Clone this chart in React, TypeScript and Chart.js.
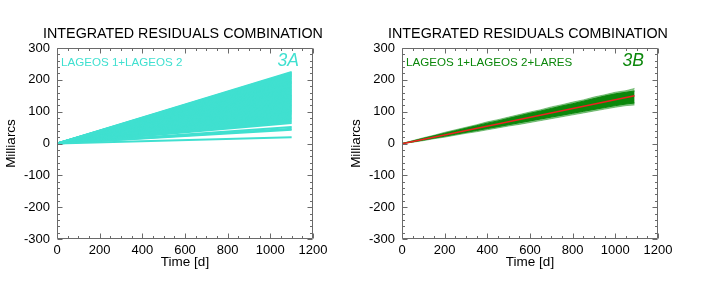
import React, { useEffect, useRef } from "react";
import { Chart, registerables } from "chart.js";

Chart.register(...registerables);

// ---------- data ----------
const TITLE = "INTEGRATED RESIDUALS COMBINATION";
const X_TITLE = "Time [d]";
const Y_TITLE = "Milliarcs";
const xTickValues = [0, 200, 400, 600, 800, 1000, 1200];
const yTickValues = [-300, -200, -100, 0, 100, 200, 300];

// Panel 3A: each integrated-residual curve starts at 0 and ends (day 1100) at these values
const fanStartDay = 0;
const fanEndDay = 1100;
const fanEndValues = [
  225, 222, 219, 216, 213, 210, 207, 204, 201, 197, 194, 191, 188, 185, 182,
  179, 176, 173, 170, 167, 164, 161, 158, 155, 152, 149, 146, 143, 140, 137,
  134, 131, 128, 125, 122, 119, 116, 113, 110, 107, 104, 101, 98, 95, 92,
  88, 84, 80, 76, 72, 68, 64, 52, 46, 43, 20,
];

// Panel 3B: envelopes of the LAGEOS 1 + LAGEOS 2 + LARES curves, and the red fit
const bandDays = [0, 50, 100, 150, 200, 250, 300, 350, 400, 450, 500, 550, 600, 650, 700, 750, 800, 850, 900, 950, 1000, 1050, 1090];
const bandUpper = [0, 8, 16, 24, 32, 40, 48, 56, 64, 71, 79, 87, 95, 102, 110, 118, 125, 133, 141, 149, 156, 161, 165];
const bandLower = [0, 5, 11, 17, 23, 29, 35, 41, 47, 53, 59, 65, 71, 77, 83, 89, 95, 101, 107, 113, 119, 124, 127];
const spikeUpper = [0, 9, 18, 26, 35, 43, 51, 59, 68, 75, 83, 91, 99, 106, 115, 122, 130, 137, 146, 153, 161, 166, 173];
const spikeLower = [0, 4, 9, 15, 20, 26, 32, 37, 43, 49, 55, 60, 66, 72, 78, 84, 90, 96, 102, 108, 114, 119, 121];
const fitDays = [0, 1090];
const fitValues = [-1, 150];

// ---------- styling ----------
const FONT = '"Liberation Sans", Arial, Helvetica, sans-serif';
const TEAL = "#40E0D0";
const GREEN = "#0b870b";
const LIGHT_GREEN = "rgba(30,145,30,0.5)";
const RED = "#ee2020";

const framePlugin = {
  id: "frame",
  afterDraw(chart: any, _args: any, opts: any) {
    const { ctx, chartArea: a, scales } = chart;
    const xs = scales.x;
    const ys = scales.y;
    ctx.save();
    ctx.strokeStyle = "#6a6a6a";
    ctx.lineWidth = 1;
    const L = Math.round(a.left) + 0.5;
    const R = Math.round(a.right) - 0.5;
    const T = Math.round(a.top) + 0.5;
    const B = Math.round(a.bottom) - 0.5;
    ctx.beginPath();
    ctx.rect(L, T, R - L, B - T);
    ctx.stroke();
    ctx.beginPath();
    for (let v = xs.min; v <= xs.max; v += 50) {
      const major = xTickValues.includes(v);
      const len = major ? 5 : 2.5;
      const p = Math.round(xs.getPixelForValue(v)) + 0.5;
      ctx.moveTo(p, B);
      ctx.lineTo(p, B - len);
      ctx.moveTo(p, T);
      ctx.lineTo(p, T + len);
    }
    for (let v = ys.min; v <= ys.max; v += 20) {
      const major = yTickValues.includes(v);
      const len = major ? 5 : 2.5;
      const p = Math.round(ys.getPixelForValue(v)) + 0.5;
      ctx.moveTo(L, p);
      ctx.lineTo(L + len, p);
      ctx.moveTo(R, p);
      ctx.lineTo(R - len, p);
    }
    ctx.stroke();

    // panel title
    ctx.fillStyle = "#000";
    ctx.textAlign = "center";
    ctx.textBaseline = "middle";
    ctx.font = `14.3px ${FONT}`;
    ctx.fillText(TITLE, (a.left + a.right) / 2 - 2, a.top - 14);

    // in-plot labels
    ctx.fillStyle = opts.color;
    ctx.textBaseline = "alphabetic";
    ctx.textAlign = "left";
    ctx.font = `11.6px ${FONT}`;
    ctx.fillText(opts.label, a.left + 4, a.top + 18);
    ctx.textAlign = "right";
    ctx.font = `italic 17.5px ${FONT}`;
    ctx.fillText(opts.tag, a.right - 14, a.top + 18);
    ctx.restore();
  },
};

function makeOptions(rightPad: number, label: string, tag: string, color: string): any {
  return {
    responsive: false,
    animation: false,
    events: [],
    layout: { padding: { left: 0, right: rightPad, top: 48, bottom: 0 } },
    plugins: {
      legend: { display: false },
      tooltip: { enabled: false },
      title: { display: false },
      filler: { drawTime: "beforeDatasetDraw" },
      frame: { label, tag, color },
    },
    scales: {
      x: {
        type: "linear",
        min: 0,
        max: 1200,
        afterBuildTicks: (s: any) => {
          s.ticks = xTickValues.map((v) => ({ value: v }));
        },
        afterFit: (s: any) => {
          s.height = 58;
        },
        grid: { display: false, drawTicks: false },
        border: { display: false },
        ticks: {
          autoSkip: false,
          maxRotation: 0,
          padding: 4,
          color: "#000",
          font: { family: FONT, size: 13 },
          callback: (v: any) => String(v),
        },
        title: {
          display: true,
          text: X_TITLE,
          color: "#000",
          font: { family: FONT, size: 13.5, lineHeight: 1.2 },
          padding: { top: 0, bottom: 27 },
        },
      },
      y: {
        type: "linear",
        min: -300,
        max: 300,
        afterBuildTicks: (s: any) => {
          s.ticks = yTickValues.map((v) => ({ value: v }));
        },
        afterFit: (s: any) => {
          s.width = 57;
        },
        grid: { display: false, drawTicks: false },
        border: { display: false },
        ticks: {
          autoSkip: false,
          padding: 7,
          color: "#000",
          font: { family: FONT, size: 13 },
          callback: (v: any) => String(v),
        },
        title: {
          display: true,
          text: Y_TITLE,
          color: "#000",
          font: { family: FONT, size: 13.5, lineHeight: 1.2 },
          padding: { top: 3, bottom: 0 },
        },
      },
    },
  };
}

function PanelA() {
  const ref = useRef<HTMLCanvasElement>(null);
  useEffect(() => {
    const datasets = fanEndValues.map((end) => ({
      data: [
        { x: fanStartDay, y: 0 },
        { x: fanEndDay, y: end },
      ],
      borderColor: TEAL,
      borderWidth: 2,
      pointRadius: 0,
      fill: false,
    }));
    const chart = new Chart(ref.current!, {
      type: "line",
      data: { datasets },
      options: makeOptions(32, "LAGEOS 1+LAGEOS 2", "3A", TEAL),
      plugins: [framePlugin],
    } as any);
    return () => chart.destroy();
  }, []);
  return (
    <canvas
      ref={ref}
      width={345}
      height={297}
      style={{ position: "absolute", left: 0, top: 0, width: 345, height: 297 }}
    />
  );
}

function PanelB() {
  const ref = useRef<HTMLCanvasElement>(null);
  useEffect(() => {
    const pts = (ys: number[]) => bandDays.map((d, i) => ({ x: d, y: ys[i] }));
    const datasets: any[] = [
      {
        data: fitDays.map((d, i) => ({ x: d, y: fitValues[i] })),
        borderColor: RED,
        borderWidth: 1.6,
        pointRadius: 0,
        fill: false,
        order: 0,
      },
      {
        data: pts(bandUpper),
        borderColor: GREEN,
        backgroundColor: GREEN,
        borderWidth: 1,
        pointRadius: 0,
        fill: "+1",
        order: 1,
      },
      {
        data: pts(bandLower),
        borderColor: GREEN,
        borderWidth: 1,
        pointRadius: 0,
        fill: false,
        order: 2,
      },
      {
        data: pts(spikeUpper),
        borderColor: LIGHT_GREEN,
        backgroundColor: LIGHT_GREEN,
        borderWidth: 1,
        pointRadius: 0,
        fill: "+1",
        order: 3,
      },
      {
        data: pts(spikeLower),
        borderColor: LIGHT_GREEN,
        borderWidth: 1,
        pointRadius: 0,
        fill: false,
        order: 4,
      },
    ];
    const chart = new Chart(ref.current!, {
      type: "line",
      data: { datasets },
      options: makeOptions(48, "LAGEOS 1+LAGEOS 2+LARES", "3B", GREEN),
      plugins: [framePlugin],
    } as any);
    return () => chart.destroy();
  }, []);
  return (
    <canvas
      ref={ref}
      width={361}
      height={297}
      style={{ position: "absolute", left: 345, top: 0, width: 361, height: 297 }}
    />
  );
}

export default function App() {
  return (
    <div style={{ position: "absolute", left: 0, top: 0, width: 706, height: 297, background: "#fff" }}>
      <PanelA />
      <PanelB />
    </div>
  );
}
